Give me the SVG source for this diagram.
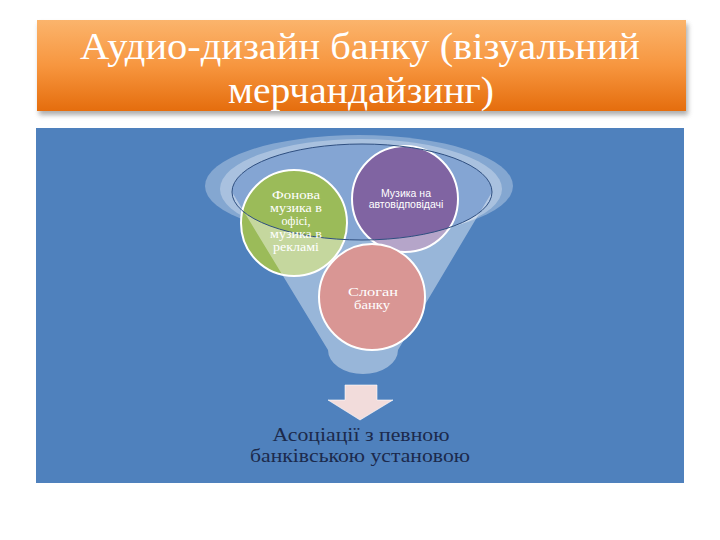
<svg xmlns="http://www.w3.org/2000/svg" width="720" height="540" viewBox="0 0 720 540">
<defs>
<linearGradient id="org" x1="0" y1="0" x2="0" y2="1">
<stop offset="0" stop-color="#fbb46c"/>
<stop offset="0.5" stop-color="#f7963f"/>
<stop offset="1" stop-color="#e56d0d"/>
</linearGradient>
<filter id="sh" x="-5%" y="-20%" width="110%" height="150%">
<feGaussianBlur stdDeviation="2.5"/>
</filter>
<style>
.circ{stroke:#ffffff;stroke-width:2}
.ser{font-family:"Liberation Serif","Times New Roman",serif;text-anchor:middle}
.san{font-family:"Liberation Sans",Arial,sans-serif;text-anchor:middle}
</style>
</defs>
<rect width="720" height="540" fill="#ffffff"/>
<g id="title">
<rect x="39" y="24" width="649" height="91" fill="#777" opacity="0.6" filter="url(#sh)"/>
<rect x="37" y="20" width="649" height="91" fill="url(#org)"/>
<text class="ser" font-family="Liberation Serif, serif" x="360" y="59" font-size="37" fill="#ffffff" textLength="560" lengthAdjust="spacingAndGlyphs">Аудио-дизайн банку (візуальний</text>
<text class="ser" font-family="Liberation Serif, serif" x="361" y="103" font-size="37" fill="#ffffff" textLength="266" lengthAdjust="spacingAndGlyphs">мерчандайзинг)</text>
</g>
<rect id="panel" x="36" y="128" width="648" height="355" fill="#4f81bd"/>
<g id="funnel">
<ellipse cx="359" cy="186" rx="154" ry="51" fill="#ffffff" fill-opacity="0.3"/>
<ellipse cx="361" cy="189" rx="141" ry="50" fill="#ffffff" fill-opacity="0.3"/>
<ellipse cx="362" cy="192" rx="130" ry="48" fill="#84a5d3"/>
</g>
<g id="node-green">
<circle class="circ" cx="294" cy="223" r="53" fill="#9bbb59"/>
</g>
<g id="node-purple">
<circle class="circ" cx="405" cy="199" r="53" fill="#8064a2"/>
</g>
<g id="funnel-front">
<path d="M232 192 A130 48 0 0 0 492 192 L398 350 A35 24 0 0 1 328 350 Z" fill="#ffffff" fill-opacity="0.42"/>
<ellipse cx="362" cy="192" rx="130" ry="48" fill="none" stroke="#2f4f80" stroke-width="1"/>
</g>
<g id="text-green" class="ser" font-family="Liberation Serif, serif" font-size="12.5" fill="#ffffff">
<text x="296" y="199" textLength="48" lengthAdjust="spacingAndGlyphs">Фонова</text>
<text x="296" y="212" textLength="52" lengthAdjust="spacingAndGlyphs">музика в</text>
<text x="296" y="225" textLength="29" lengthAdjust="spacingAndGlyphs">офісі,</text>
<text x="296" y="238" textLength="52" lengthAdjust="spacingAndGlyphs">музика в</text>
<text x="296" y="251" textLength="46" lengthAdjust="spacingAndGlyphs">рекламі</text>
</g>
<g id="text-purple" class="san" font-family="Liberation Sans, sans-serif" font-size="10.5" fill="#ffffff">
<text x="406" y="197">Музика на</text>
<text x="406" y="208">автовідповідачі</text>
</g>
<g id="node-pink">
<circle class="circ" cx="372" cy="297" r="53" fill="#d99694"/>
<text class="ser" font-family="Liberation Serif, serif" x="373" y="296" font-size="12.5" fill="#ffffff" textLength="50" lengthAdjust="spacingAndGlyphs">Слоган</text>
<text class="ser" font-family="Liberation Serif, serif" x="372" y="309" font-size="12.5" fill="#ffffff" textLength="36" lengthAdjust="spacingAndGlyphs">банку</text>
</g>
<g id="connectors">
<path d="M345 385 L377 385 L377 400 L393 400 L360 420 L328 400 L345 400 Z" fill="#f2dcdb" stroke="#ffffff" stroke-opacity="0.6" stroke-width="1"/>
</g>
<g id="result" class="ser" font-family="Liberation Serif, serif" font-size="18" fill="#1c2a4c">
<text x="361" y="441" textLength="177" lengthAdjust="spacingAndGlyphs">Асоціації з певною</text>
<text x="360" y="462" textLength="220" lengthAdjust="spacingAndGlyphs">банківською установою</text>
</g>
</svg>
